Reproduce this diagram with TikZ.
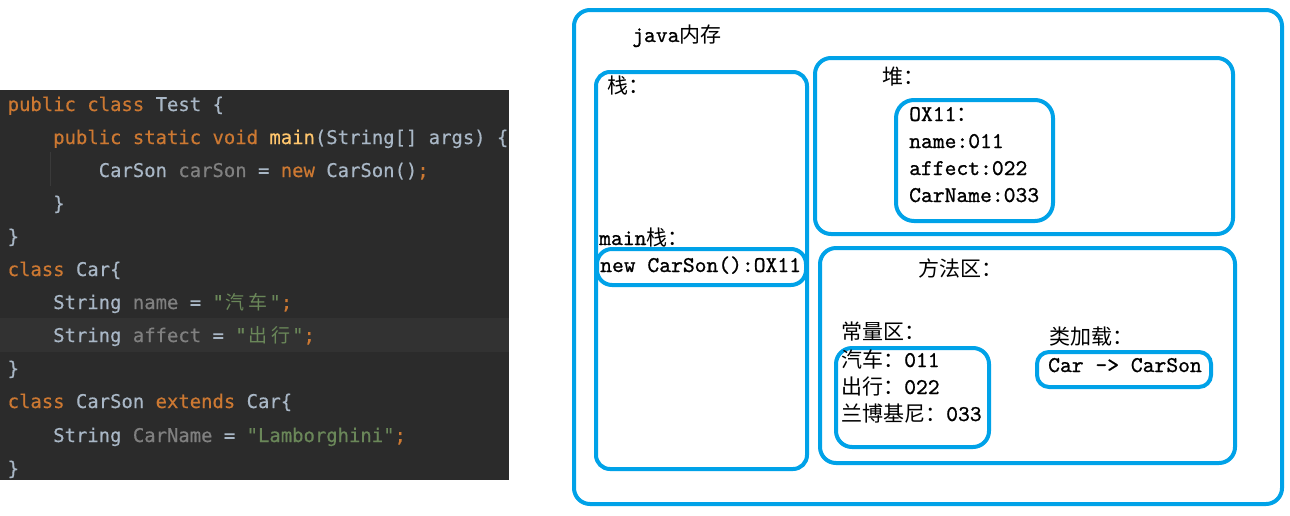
\documentclass[tikz,border=0pt]{standalone}
\usepackage{fontspec}
\newfontfamily\codefont{DejaVu Sans Mono}[FakeBold=0.4]
\newfontfamily\labfont{lmmono10-regular.otf}[FakeBold=0.9]
\newfontfamily\cjk{Noto Sans CJK SC}
\definecolor{bluebox}{HTML}{00A2E8}
\definecolor{codebg}{HTML}{2B2B2B}
\definecolor{codehl}{HTML}{323232}
\definecolor{codeguide}{HTML}{3A3A3A}
\definecolor{ckwc}{HTML}{CC7832}
\definecolor{cltc}{HTML}{A9B7C6}
\definecolor{cgrc}{HTML}{808080}
\definecolor{cstc}{HTML}{6A8759}
\definecolor{cyec}{HTML}{FFC66D}
\newcommand\ckw[1]{\textcolor{ckwc}{#1}}
\newcommand\cgr[1]{\textcolor{cgrc}{#1}}
\newcommand\cst[1]{\textcolor{cstc}{#1}}
\newcommand\cye[1]{\textcolor{cyec}{#1}}
\newcommand\zcode[1]{\makebox[22.76pt][c]{\cjk\fontsize{19}{20}\selectfont #1}}
\newcommand\zh[1]{{\cjk\fontsize{21}{24}\selectfont #1}}
\tikzset{
  memobox/.style={draw=bluebox, line width=4pt, rounded corners=#1},
  memobox/.default=16pt,
  codeline/.style={anchor=base west, inner sep=0pt, text=cltc,
    font=\codefont\fontsize{18.9}{20}\selectfont},
  lab/.style={anchor=base west, inner sep=0pt, text=black,
    font=\labfont\fontsize{22.5}{24}\selectfont},
}
\begin{document}
\begin{tikzpicture}[x=1pt,y=-1pt]
\useasboundingbox (0,0) rectangle (1290,515);
\fill[white] (0,0) rectangle (1290,515);
% ---------- code panel ----------
\fill[codebg] (0,90) rectangle (509,480);
\fill[codehl] (0,318) rectangle (509,352);
\draw[codeguide, line width=1pt] (50,152) -- (50,186);
\def\cw{11.38}
\node[codeline] (l1)  at (7.5,111) {\ckw{public class} Test \{};
\node[codeline] (l2)  at (7.5+4*\cw,144) {\ckw{public static void} \cye{main}(String[] args) \{};
\node[codeline] (l3)  at (7.5+8*\cw,177) {CarSon \cgr{carSon} = \ckw{new} CarSon()\ckw{;}};
\node[codeline] (l4)  at (7.5+4*\cw,210) {\}};
\node[codeline] (l5)  at (7.5,243) {\}};
\node[codeline] (l6)  at (7.5,276) {\ckw{class} Car\{};
\node[codeline] (l7)  at (7.5+4*\cw,309) {String \cgr{name} = \cst{"\zcode{汽}\zcode{车}"}\ckw{;}};
\node[codeline] (l8)  at (7.5+4*\cw,342) {String \cgr{affect} = \cst{"\zcode{出}\zcode{行}"}\ckw{;}};
\node[codeline] (l9)  at (7.5,375) {\}};
\node[codeline] (l10) at (7.5,408) {\ckw{class} CarSon \ckw{extends} Car\{};
\node[codeline] (l11) at (7.5+4*\cw,442) {String \cgr{CarName} = \cst{"Lamborghini"}\ckw{;}};
\node[codeline] (l12) at (7.5,475) {\}};
% ---------- memory diagram ----------
\draw[memobox] (574,10) rectangle (1282,504);
\draw[memobox=14pt] (596,72) rectangle (807,469);
\draw[memobox=15pt] (597,249) rectangle (806,285);
\draw[memobox] (815,58) rectangle (1233,234);
\draw[memobox=18pt] (896,100) rectangle (1053,221);
\draw[memobox] (820,248) rectangle (1235,463);
\draw[memobox] (836,348) rectangle (989,447);
\draw[memobox=12pt] (1037,352) rectangle (1211,387);
\node[lab] (javamem)  at (632,42)    {java\zh{内存}};
\node[lab] (stacklab) at (607,93.5)  {\zh{栈：}};
\node[lab] (mainlab)  at (599,245)   {main\zh{栈：}};
\node[lab] (frame)    at (600,272)   {new CarSon():OX11};
\node[lab] (heaplab)  at (882,84.5)  {\zh{堆：}};
\node[lab] (o1)       at (909,121)   {OX11\zh{：}};
\node[lab] (o2)       at (909,148)   {name:011};
\node[lab] (o3)       at (909,175)   {affect:022};
\node[lab] (o4)       at (909,202)   {CarName:033};
\node[lab] (methlab)  at (918,276)   {\zh{方法区：}};
\node[lab] (constlab) at (841,339.5) {\zh{常量区：}};
\node[lab] (c1)       at (841,367)   {\zh{汽车：}011};
\node[lab] (c2)       at (841,394)   {\zh{出行：}022};
\node[lab] (c3)       at (841,421)   {\zh{兰博基尼：}033};
\node[lab] (classlab) at (1049,344.5) {\zh{类加载：}};
\node[lab] (cl1)      at (1048,372)  {Car -> CarSon};
\end{tikzpicture}
\end{document}
